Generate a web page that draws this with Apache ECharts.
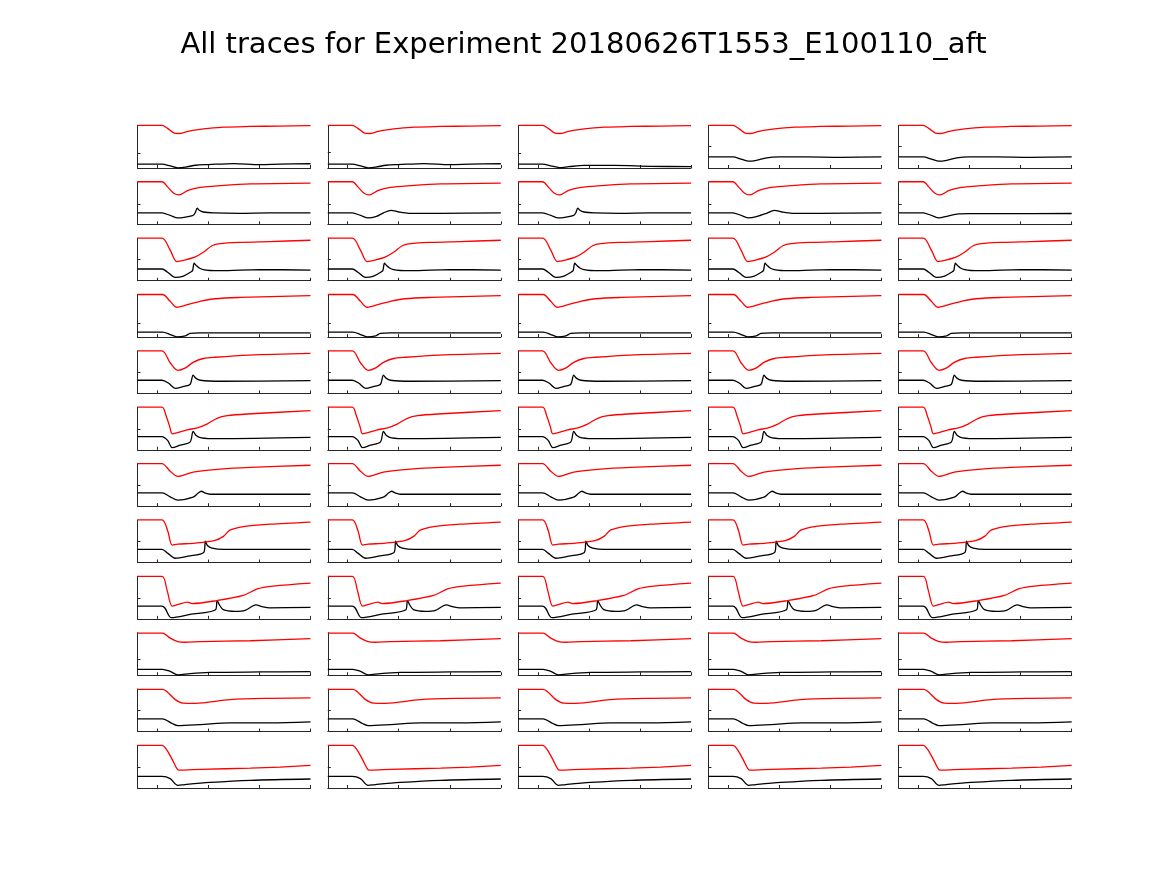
<!DOCTYPE html>
<html>
<head>
<meta charset="utf-8">
<script src="https://cdn.jsdelivr.net/npm/echarts@6/dist/echarts.min.js"></script>
<style>html,body{margin:0;padding:0;background:#fff}#c{width:1167px;height:875px}</style>
</head>
<body>
<div id="c"></div>
<script>
const TITLE = 'All traces for Experiment 20180626T1553_E100110_aft';
const X_TICKS = [0, 1, 2, 3];
const X_MIN = -0.39, X_MAX = 3.0;

// Row 1
const red_r1 = [[-0.39,100],[0.09,100],[0.2,93],[0.33,82],[0.42,81],[0.6,86],[0.8,90],[1.0,93],[1.3,96],[1.8,97.5],[2.4,98.5],[3.0,99.5]];
const black_r1 = [[-0.39,9],[0.09,9],[0.25,5],[0.4,0.5],[0.55,2],[0.75,6.5],[1.0,8],[1.5,10.5],[2.0,8],[2.4,9],[3.0,10]];
const black_r1c3 = [[-0.39,9],[0.09,9],[0.25,5],[0.42,1],[0.6,3],[0.9,6],[1.5,6],[2.2,4],[3.0,3]];
const black_r1c45 = [[-0.39,26],[0.09,26],[0.25,21],[0.4,16],[0.55,18],[0.75,24],[1.0,26],[1.5,26],[2.2,25],[3.0,26]];
// Row 2
const red_r2 = [[-0.39,100],[0.09,100],[0.2,88],[0.32,73],[0.42,69],[0.6,80],[0.84,87],[1.23,91],[1.82,95],[3.0,97]];
const black_r2 = [[-0.39,27],[0.09,27],[0.25,21],[0.4,15],[0.55,17],[0.7,21],[0.74,27],[0.78,38],[0.82,33],[0.9,29],[1.1,27],[1.6,26],[2.2,27],[3.0,27]];
const black_r2c2 = [[-0.39,27],[0.09,27],[0.25,21],[0.4,15],[0.55,18],[0.7,27],[0.85,33],[1.0,29],[1.2,26],[1.8,26],[3.0,27]];
const black_r2c4 = [[-0.39,27],[0.09,27],[0.25,21],[0.4,15],[0.55,18],[0.75,26],[0.9,33],[1.05,29],[1.25,26],[1.8,26],[3.0,27]];
const black_r2c5 = [[-0.39,27],[0.09,27],[0.25,21],[0.4,15],[0.55,19],[0.75,24],[1.0,25],[1.6,25],[3.0,25.5]];
// Row 3
const red_r3 = [[-0.39,100],[0.09,100],[0.25,72],[0.38,45],[0.55,49],[0.74,56],[0.9,67],[1.07,82],[1.23,87],[1.62,90],[2.2,92],[3.0,95]];
const black_r3 = [[-0.39,27.5],[0.09,27.5],[0.2,20],[0.35,8],[0.51,11],[0.66,21],[0.69,24],[0.72,41],[0.76,36],[0.82,30],[0.9,26],[1.03,24],[1.23,23.5],[2.0,26],[3.0,25]];
// Row 4
const red_r4 = [[-0.39,100],[0.1,100],[0.25,84],[0.38,70],[0.64,78],[0.84,84],[1.13,90],[1.62,93],[3.0,97.5]];
const black_r4 = [[-0.39,11.5],[0.1,11.5],[0.25,6],[0.38,0.5],[0.55,3],[0.64,8.5],[0.84,10],[3.0,10]];
// Row 5
const red_r5 = [[-0.39,100],[0.09,100],[0.25,72],[0.4,54],[0.55,60],[0.7,73],[0.9,82],[1.13,85],[1.8,90],[3.0,94]];
const black_r5 = [[-0.39,31],[0.09,31],[0.22,24],[0.35,12],[0.5,16],[0.64,21],[0.7,43],[0.75,36],[0.84,31],[1.23,28.6],[3.0,30]];
// Row 6
const red_r6 = [[-0.39,100],[0.09,100],[0.17,80],[0.24,55],[0.29,37.5],[0.38,40],[0.58,47],[0.78,51.4],[0.98,61],[1.17,74],[1.37,80],[1.76,84],[3.0,92]];
const black_r6 = [[-0.39,31],[0.09,31],[0.2,22],[0.29,5],[0.45,11],[0.64,18],[0.7,43],[0.76,33.5],[0.86,28],[1.17,26],[3.0,29]];
// Row 7
const red_r7 = [[-0.39,100],[0.09,100],[0.25,82],[0.4,70],[0.7,80],[1.23,87],[1.82,91],[3.0,96]];
const black_r7 = [[-0.39,31],[0.09,31],[0.25,22],[0.4,14],[0.7,21],[0.8,31],[0.86,35],[0.93,31],[1.03,28],[3.0,28]];
// Row 8
const red_r8 = [[-0.39,100],[0.09,100],[0.2,75],[0.29,41],[0.4,43],[0.74,45.5],[1.13,52],[1.3,62],[1.42,76],[1.72,85],[2.2,90],[3.0,95]];
const black_r8 = [[-0.39,31],[0.09,31],[0.2,22],[0.35,10],[0.6,15],[0.91,24],[0.94,50],[0.98,40],[1.07,34],[1.3,31],[3.0,31]];
// Row 9
const red_r9 = [[-0.39,100],[0.09,100],[0.19,67],[0.29,30],[0.41,34],[0.59,39.4],[0.68,36],[1.17,43],[1.68,55],[1.97,71],[2.27,77],[3.0,84]];
const black_r9 = [[-0.39,30],[0.09,30],[0.15,25],[0.27,3],[0.64,10.5],[1.14,21.6],[1.17,43.4],[1.22,32],[1.29,21.6],[1.52,17.6],[1.72,20],[1.93,33],[2.05,29],[2.2,26],[3.0,27]];
// Row 10
const red_r10 = [[-0.39,99],[0.1,99],[0.25,87],[0.4,79],[0.54,77.5],[0.84,79],[1.82,81],[3.0,86]];
const black_r10 = [[-0.39,14],[0.1,14],[0.25,9],[0.4,1],[0.64,4],[1.03,6.5],[2.01,7.7],[3.0,8.5]];
// Row 11
const red_r11 = [[-0.39,99],[0.1,99],[0.35,75],[0.5,67],[0.74,66.4],[1.42,75],[2.2,78],[3.0,79]];
const black_r11 = [[-0.39,30],[0.1,30],[0.29,19],[0.4,14],[0.84,16.4],[1.42,20.4],[2.2,20.4],[3.0,22.7]];
// Row 12
const red_r12 = [[-0.39,100],[0.09,100],[0.18,90],[0.29,67],[0.4,43],[0.46,42],[0.84,43.7],[1.82,46.5],[2.4,49],[3.0,53]];
const black_r12 = [[-0.39,27],[0.09,27],[0.25,22],[0.4,6],[0.54,8],[1.03,13],[1.82,18],[3.0,21]];

// panel assignment (rows x 5 columns)
const RED_ROWS = [red_r1, red_r2, red_r3, red_r4, red_r5, red_r6, red_r7, red_r8, red_r9, red_r10, red_r11, red_r12];
const BLACK_PANELS = [
  [black_r1, black_r1, black_r1c3, black_r1c45, black_r1c45],
  [black_r2, black_r2c2, black_r2, black_r2c4, black_r2c5],
  [black_r3, black_r3, black_r3, black_r3, black_r3],
  [black_r4, black_r4, black_r4, black_r4, black_r4],
  [black_r5, black_r5, black_r5, black_r5, black_r5],
  [black_r6, black_r6, black_r6, black_r6, black_r6],
  [black_r7, black_r7, black_r7, black_r7, black_r7],
  [black_r8, black_r8, black_r8, black_r8, black_r8],
  [black_r9, black_r9, black_r9, black_r9, black_r9],
  [black_r10, black_r10, black_r10, black_r10, black_r10],
  [black_r11, black_r11, black_r11, black_r11, black_r11],
  [black_r12, black_r12, black_r12, black_r12, black_r12]
];
const Y_TICKS = [
  [35, 37, 35, 51, 51],
  [48, 48, 48, 48, 48],
  [51, 51, 51, 51, 51],
  [33, 33, 33, 33, 33],
  [49, 49, 49, 49, 49],
  [49, 49, 49, 49, 49],
  [49, 49, 49, 49, 49],
  [49, 49, 49, 49, 49],
  [49, 49, 49, 49, 49],
  [37.5, 37.5, 37.5, 37.5, 37.5],
  [49, 49, 49, 49, 49],
  [49, 49, 49, 49, 49]
];

// layout
const LEFT0 = 137.5, COL_PITCH = 190.3, TOP0 = 125.4, ROW_PITCH = 56.36, W = 173, H = 42.6;
const AX_COLOR = '#262626';

const grid = [], xAxis = [], yAxis = [], series = [];
let k = 0;
for (let r = 0; r < RED_ROWS.length; r++) {
  for (let c = 0; c < 5; c++) {
    grid.push({ left: LEFT0 + c * COL_PITCH, top: TOP0 + r * ROW_PITCH, width: W, height: H, containLabel: false });
    xAxis.push({
      type: 'value', gridIndex: k, min: X_MIN, max: X_MAX,
      axisLine: { show: true, onZero: false, lineStyle: { color: AX_COLOR, width: 1 } },
      axisTick: { show: true, inside: true, length: 3, customValues: X_TICKS, lineStyle: { color: AX_COLOR } },
      axisLabel: { show: false }, splitLine: { show: false }
    });
    yAxis.push({
      type: 'value', gridIndex: k, min: 0, max: 100,
      axisLine: { show: true, onZero: false, lineStyle: { color: AX_COLOR, width: 1 } },
      axisTick: { show: true, inside: true, length: 3, customValues: [Y_TICKS[r][c]], lineStyle: { color: AX_COLOR } },
      axisLabel: { show: false }, splitLine: { show: false }
    });
    series.push({
      type: 'line', xAxisIndex: k, yAxisIndex: k, data: BLACK_PANELS[r][c], clip: false,
      showSymbol: false, smooth: 0.3, lineStyle: { color: '#000000', width: 1.3 }, silent: true
    });
    series.push({
      type: 'line', xAxisIndex: k, yAxisIndex: k, data: RED_ROWS[r], clip: false,
      showSymbol: false, smooth: 0.3, lineStyle: { color: '#ff0000', width: 1.3 }, silent: true
    });
    k++;
  }
}

const chart = echarts.init(document.getElementById('c'), null, { renderer: 'canvas' });
chart.setOption({
  animation: false,
  backgroundColor: '#ffffff',
  title: {
    text: TITLE, left: 'center', top: 26,
    textStyle: { fontFamily: 'DejaVu Sans', fontSize: 29, fontWeight: 'normal', color: '#000000' }
  },
  grid, xAxis, yAxis, series
});
</script>
</body>
</html>
